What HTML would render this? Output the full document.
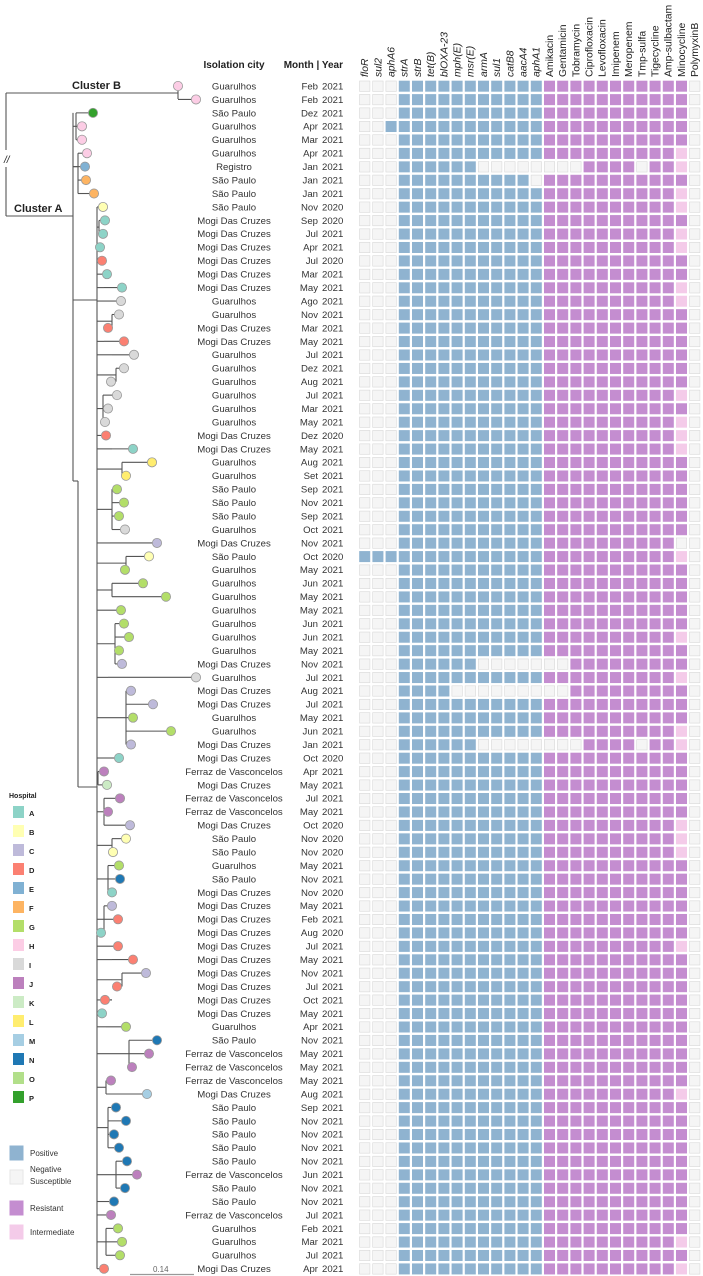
<!DOCTYPE html>
<html><head><meta charset="utf-8"><style>
html,body{margin:0;padding:0;background:#fff;}
svg{display:block;font-family:"Liberation Sans",sans-serif;}
</style></head><body>
<svg id="fig" width="703" height="1276" viewBox="0 0 703 1276" xmlns="http://www.w3.org/2000/svg">
<g id="tree"></g>
<g id="labels"></g>
<g id="grid"></g>
<g id="legend"></g>
</svg>
<script>
const cities = ["Guarulhos","Guarulhos","São Paulo","Guarulhos","Guarulhos","Guarulhos","Registro","São Paulo","São Paulo","São Paulo",
"Mogi Das Cruzes","Mogi Das Cruzes","Mogi Das Cruzes","Mogi Das Cruzes","Mogi Das Cruzes","Mogi Das Cruzes","Guarulhos","Guarulhos","Mogi Das Cruzes","Mogi Das Cruzes",
"Guarulhos","Guarulhos","Guarulhos","Guarulhos","Guarulhos","Guarulhos","Mogi Das Cruzes","Mogi Das Cruzes","Guarulhos","Guarulhos",
"São Paulo","São Paulo","São Paulo","Guarulhos","Mogi Das Cruzes","São Paulo","Guarulhos","Guarulhos","Guarulhos","Guarulhos",
"Guarulhos","Guarulhos","Guarulhos","Mogi Das Cruzes","Guarulhos","Mogi Das Cruzes","Mogi Das Cruzes","Guarulhos","Guarulhos","Mogi Das Cruzes",
"Mogi Das Cruzes","Ferraz de Vasconcelos","Mogi Das Cruzes","Ferraz de Vasconcelos","Ferraz de Vasconcelos","Mogi Das Cruzes","São Paulo","São Paulo","Guarulhos","São Paulo",
"Mogi Das Cruzes","Mogi Das Cruzes","Mogi Das Cruzes","Mogi Das Cruzes","Mogi Das Cruzes","Mogi Das Cruzes","Mogi Das Cruzes","Mogi Das Cruzes","Mogi Das Cruzes","Mogi Das Cruzes",
"Guarulhos","São Paulo","Ferraz de Vasconcelos","Ferraz de Vasconcelos","Ferraz de Vasconcelos","Mogi Das Cruzes","São Paulo","São Paulo","São Paulo","São Paulo",
"São Paulo","Ferraz de Vasconcelos","São Paulo","São Paulo","Ferraz de Vasconcelos","Guarulhos","Guarulhos","Guarulhos","Mogi Das Cruzes"];
const months = ["Feb","Feb","Dez","Apr","Mar","Apr","Jan","Jan","Jan","Nov",
"Sep","Jul","Apr","Jul","Mar","May","Ago","Nov","Mar","May",
"Jul","Dez","Aug","Jul","Mar","May","Dez","May","Aug","Set",
"Sep","Nov","Sep","Oct","Nov","Oct","May","Jun","May","May",
"Jun","Jun","May","Nov","Jul","Aug","Jul","May","Jun","Jan",
"Oct","Apr","May","Jul","May","Oct","Nov","Nov","May","Nov",
"Nov","May","Feb","Aug","Jul","May","Nov","Jul","Oct","May",
"Apr","Nov","May","May","May","Aug","Sep","Nov","Nov","Nov",
"Nov","Jun","Nov","Nov","Jul","Feb","Mar","Jul","Apr"];
const years = ["2021","2021","2021","2021","2021","2021","2021","2021","2021","2020",
"2020","2021","2021","2020","2021","2021","2021","2021","2021","2021",
"2021","2021","2021","2021","2021","2021","2020","2021","2021","2021",
"2021","2021","2021","2021","2021","2020","2021","2021","2021","2021",
"2021","2021","2021","2021","2021","2021","2021","2021","2021","2021",
"2020","2021","2021","2021","2021","2020","2020","2020","2021","2021",
"2020","2021","2021","2020","2021","2021","2021","2021","2021","2021",
"2021","2021","2021","2021","2021","2021","2021","2021","2021","2021",
"2021","2021","2021","2021","2021","2021","2021","2021","2021"];
const hospitals = "HHPHHHEFFBAAADAAIIDDIIIIIIDALLGGGICBGGGGGGGCICCGGCAJKJJCBBGNACDADDCDDAGNJJJMNNNNNJNNJGGGD".split("");
const tipDist = [178,196,93,82,82,87,85,86,94,103,105,103,100,102,107,122,121,119,108,124,134,124,111,117,108,105,106,133,152,126,117,124,119,125,157,149,125,143,166,121,124,129,119,122,196,131,153,133,171,131,119,104,107,120,108,130,126,113,119,120,112,112,118,101,118,133,146,117,105,102,126,157,149,132,111,147,116,126,114,119,127,137,125,114,111,118,122,120,104];
const parentDist = [178,178,76,76,76,78,73,78,78,97,99,99,97,97,99,104,110,112,112,104,112,116,116,103,103,103,100,
112,122,122,112,112,112,112,110,126,126,112,112,117,115,115,115,115,108,126,126,126,126,126,108,
98,98,104,104,104,112,112,108,108,108,104,104,104,97,112,122,122,112,100,
106,129,129,129,106,106,108,108,108,108,116,116,116,108,103,106,106,106,97];
const geneNames = ["floR","sul2","aphA6","strA","strB","tet(B)","blOXA-23","mph(E)","msr(E)","armA","sul1","catB8","aacA4","aphA1"];
const abNames = ["Amikacin","Gentamicin","Tobramycin","Ciprofloxacin","Levofloxacin","Imipenem","Meropenem","Tmp-sulfa","Tigecycline","Amp-sulbactam","Minocycline","PolymyxinB"];
const genes = ["00011111111111","00011111111111","00011111111111","00111111111111","00011111111111","00011111111111","00011111100000","00011111111110","00011111111111","00011111111111",
"00011111111111","00011111111111","00011111111111","00011111111111","00011111111111","00011111111111","00011111111111","00011111111111","00011111111111","00011111111111",
"00011111111111","00011111111111","00011111111111","00011111111111","00011111111111","00011111111111","00011111111111","00011111111111","00011111111111","00011111111111",
"00011111111111","00011111111111","00011111111111","00011111111111","00011111111111","11111111111111","00011111111111","00011111111111","00011111111111","00011111111111",
"00011111111111","00011111111111","00011111111111","00011111100000","00011111111111","00011110000000","00011111111111","00011111111111","00011111111111","00011111100000",
"00011111111111","00011111111111","00011111111111","00011111111111","00011111111111","00011111111111","00011111111111","00011111111111","00011111111111","00011111111111",
"00011111111111","00011111111111","00011111111111","00011111111111","00011111111111","00011111111111","00011111111111","00011111111111","00011111111111","00011111111111",
"00011111111111","00011111111111","00011111111111","00011111111111","00011111111111","00011111111111","00011111111111","00011111111111","00011111111111","00011111111111",
"00011111111111","00011111111111","00011111111111","00011111111111","00011111111111","00011111111111","00011111111111","00011111111111","00011111111111"];
const abProfile = ["RRRRRRRRRRRS","RRRRRRRRRRRS","RRRRRRRRRRRS","RRRRRRRRRRRS","RRRRRRRRRRRS","RRRRRRRRRRIS","SSSRRRRSRRIS","RRRRRRRRRRRS","RRRRRRRRRRIS","RRRRRRRRRRIS",
"RRRRRRRRRRRS","RRRRRRRRRRIS","RRRRRRRRRRIS","RRRRRRRRRRRS","RRRRRRRRRRRS","RRRRRRRRRRIS","RRRRRRRRRRIS","RRRRRRRRRRRS","RRRRRRRRRRRS","RRRRRRRRRRRS",
"RRRRRRRRRRRS","RRRRRRRRRRRS","RRRRRRRRRRRS","RRRRRRRRRRIS","RRRRRRRRRRRS","RRRRRRRRRRIS","RRRRRRRRRRIS","RRRRRRRRRRIS","RRRRRRRRRRRS","RRRRRRRRRRRS",
"RRRRRRRRRRRS","RRRRRRRRRRRS","RRRRRRRRRRRS","RRRRRRRRRRRS","RRRRRRRRRRSS","RRRRRRRRRRIS","RRRRRRRRRRRS","RRRRRRRRRRRS","RRRRRRRRRRRS","RRRRRRRRRRRS",
"RRRRRRRRRRRS","RRRRRRRRRRIS","RRRRRRRRRRRS","SSRRRRRRRRRS","RRRRRRRRRRIS","SSRRRRRRRRRS","RRRRRRRRRRRS","RRRRRRRRRRRS","RRRRRRRRRRIS","SSSRRRRSRRIS",
"RRRRRRRRRRRS","RRRRRRRRRRRS","RRRRRRRRRRRS","RRRRRRRRRRRS","RRRRRRRRRRRS","RRRRRRRRRRIS","RRRRRRRRRRIS","RRRRRRRRRRIS","RRRRRRRRRRRS","RRRRRRRRRRRS",
"RRRRRRRRRRRS","RRRRRRRRRRRS","RRRRRRRRRRRS","RRRRRRRRRRRS","RRRRRRRRRRIS","RRRRRRRRRRRS","RRRRRRRRRRRS","RRRRRRRRRRRS","RRRRRRRRRRRS","RRRRRRRRRRRS",
"RRRRRRRRRRRS","RRRRRRRRRRRS","RRRRRRRRRRRS","RRRRRRRRRRRS","RRRRRRRRRRRS","RRRRRRRRRRIS","RRRRRRRRRRRS","RRRRRRRRRRRS","RRRRRRRRRRRS","RRRRRRRRRRRS",
"RRRRRRRRRRRS","RRRRRRRRRRRS","RRRRRRRRRRRS","RRRRRRRRRRRS","RRRRRRRRRRRS","RRRRRRRRRRRS","RRRRRRRRRRIS","RRRRRRRRRRRS","RRRRRRRRRRIS"];
const hospLetters = ["A","B","C","D","E","F","G","H","I","J","K","L","M","N","O","P"];

const hospColor = {A:"#8dd3c7",B:"#ffffb3",C:"#bebada",D:"#fb8072",E:"#80b1d3",F:"#fdb462",G:"#b3de69",H:"#fccde5",I:"#d9d9d9",J:"#bc80bd",K:"#ccebc5",L:"#ffed6f",M:"#a6cee3",N:"#1f78b4",O:"#b2df8a",P:"#33a02c"};
const NS="http://www.w3.org/2000/svg";
const rowY = i => 86 + i*13.44;
const colX = j => 359.5 + j*13.2;
function mk(parent, tag, attrs, text){const e=document.createElementNS(NS,tag);for(const k in attrs)e.setAttribute(k,attrs[k]);if(text!==undefined)e.textContent=text;parent.appendChild(e);return e;}
const tree=document.getElementById('tree'), labels=document.getElementById('labels'), grid=document.getElementById('grid'), legend=document.getElementById('legend');
const LC="#555";
function line(x1,y1,x2,y2,nm){const l=mk(tree,'line',{x1,y1,x2,y2,stroke:LC,'stroke-width':1.1});

}
// root and clusters
line(6,93,6,150,'root-branch-upper');line(6,167,6,216,'root-branch-lower');
line(6,93,178,93,'cluster-b-branch');line(6,216,73,216,'cluster-a-branch');
line(178,86,178,99,'cluster-b-node');
mk(tree,'text',{x:4,y:163,'font-size':10,fill:'#222','font-style':'italic'},'//');
const cb=mk(tree,'text',{x:72,y:89,'font-size':11,'font-weight':'bold',fill:'#222'},'Cluster B');

const ca=mk(tree,'text',{x:14,y:212,'font-size':11,'font-weight':'bold',fill:'#222'},'Cluster A');

// backbones
line(73,rowY(2),73,481,'backbone-1');line(73,481,78,481,'backbone-link');line(78,481,78,787,'backbone-2');line(78,787,97,787,'backbone-link-2');
line(97,rowY(9),97,rowY(88),'spine');line(73,300,97,300,'spine-link');
line(76,rowY(2),76,rowY(4),'clade-h');line(73,rowY(3),76,rowY(3),'clade-h-link');
line(78,rowY(5),78,rowY(8),'clade-ef');line(73,rowY(6),78,rowY(6),'clade-ef-link');
// groups
let s=2;
for(let i=3;i<=89;i++){
  if(i===89||parentDist[i]!==parentDist[s]){
    const p=parentDist[s];
    if(s>=9 && p>97){line(p,rowY(s),p,rowY(i-1),'clade-node');line(97,(rowY(s)+rowY(i-1))/2,p,(rowY(s)+rowY(i-1))/2,'clade-stem');}
    s=i;
  }
}
for(let i=0;i<cities.length;i++){
  const y=rowY(i);
  if(i>0) line(parentDist[i],y,tipDist[i],y,'branch-'+(i+1));
  const c=mk(tree,'circle',{cx:tipDist[i],cy:y,r:4.6,fill:hospColor[hospitals[i]],stroke:'#999','stroke-width':0.8});
  
  
  const t=mk(labels,'text',{x:234,y:y+3.4,'font-size':9.6,'text-anchor':'middle',fill:'#333'},cities[i]);
  
  
  const m=mk(labels,'text',{x:318,y:y+3.4,'font-size':9.6,'text-anchor':'end',fill:'#333'},months[i]);
  
  
  const yr=mk(labels,'text',{x:322,y:y+3.4,'font-size':9.6,fill:'#333'},years[i]);
  
  
  for(let j=0;j<14;j++){
    const pos=genes[i][j]==='1';
    const r=mk(grid,'rect',{x:colX(j),y:y-5,width:10.4,height:10.4,fill:pos?'#8fb3d0':'#f5f5f5',stroke:pos?'#8fb3d0':'#d8d8d8','stroke-width':0.6});
    
    
  }
  for(let j=0;j<12;j++){
    const v=abProfile[i][j];
    const f=v==='R'?'#c48dd0':v==='I'?'#f4cbe9':'#f5f5f5';
    const r=mk(grid,'rect',{x:colX(14+j),y:y-5,width:10.4,height:10.4,fill:f,stroke:v==='S'?'#d8d8d8':f,'stroke-width':0.6});
    
    
  }
}
const h1=mk(labels,'text',{x:234,y:68,'font-size':10,'font-weight':'bold','text-anchor':'middle',fill:'#222'},'Isolation city');

const h2=mk(labels,'text',{x:343,y:68,'font-size':10,'font-weight':'bold','text-anchor':'end',fill:'#222'},'Month | Year');

const allCols=geneNames.concat(abNames);
allCols.forEach((n,j)=>{
  const x=colX(j)+8.6;
  const t=mk(grid,'text',{x:x,y:77,'font-size':10.4,fill:'#222','font-style':j<14?'italic':'normal',transform:`rotate(-90 ${x} 77)`},n);
  
  
});
// legend
const lt=mk(legend,'text',{x:9,y:798,'font-size':7,'font-weight':'bold',fill:'#222'},'Hospital');

hospLetters.forEach((L,k)=>{
  const y=806+k*19;
  const r=mk(legend,'rect',{x:13,y:y,width:11,height:12,fill:hospColor[L]});
  
  
  const t=mk(legend,'text',{x:29,y:y+10,'font-size':7.5,'font-weight':'bold',fill:'#222'},L);
  
  
});
[['#8fb3d0',1146,['Positive']],['#f5f5f5',1170,['Negative','Susceptible']],['#c48dd0',1201,['Resistant']],['#f4cbe9',1225,['Intermediate']]].forEach(([c,y,txt])=>{
  const r=mk(legend,'rect',{x:10,y:y,width:13,height:14,fill:c,stroke:c==='#f5f5f5'?'#e6e6e6':c});
  
  
  txt.forEach((s,k)=>{const t=mk(legend,'text',{x:30,y:y+(txt.length>1?2:10)+k*12,'font-size':8,fill:'#333'},s);
  
  });
});
const sb=mk(legend,'line',{x1:130,y1:1274.5,x2:194,y2:1274.5,stroke:'#999','stroke-width':1.2});

const st=mk(legend,'text',{x:153,y:1272,'font-size':8,fill:'#666'},'0.14');

</script>
</body></html>
